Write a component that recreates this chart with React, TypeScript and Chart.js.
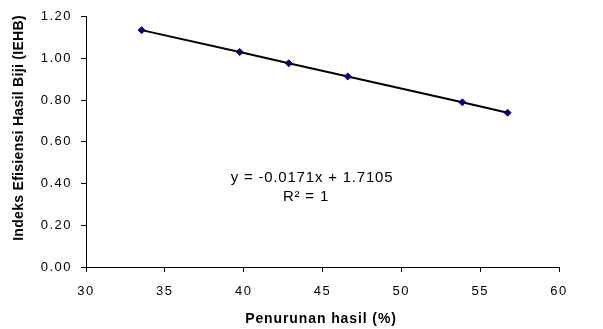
import React, { useEffect, useRef } from "react";
import { Chart, registerables } from "chart.js";

Chart.register(...registerables);

const xValues = [33.53, 39.75, 42.86, 46.6, 53.87, 56.74];
const yValues = [1.136, 1.031, 0.977, 0.914, 0.79, 0.74];
const xTicks = [30, 35, 40, 45, 50, 55, 60];
const yTicks = [0, 0.2, 0.4, 0.6, 0.8, 1.0, 1.2];
const xTitle = "Penurunan hasil (%)";
const yTitle = "Indeks Efisiensi Hasil Biji (IEHB)";
const equationText = "y = -0.0171x + 1.7105";
const r2Text = "R² = 1";

const FONT = "'Liberation Sans', Arial, sans-serif";

const spacingPlugin = {
  id: "spacing",
  beforeDraw(chart: any) {
    chart.ctx.letterSpacing = "1.5px";
  },
};

const textPlugin = {
  id: "texts",
  afterDraw(chart: any) {
    const ctx = chart.ctx;
    const xs = chart.scales.x;
    ctx.save();
    ctx.fillStyle = "#000";
    ctx.textAlign = "center";
    ctx.textBaseline = "middle";
    ctx.font = `bold 14px ${FONT}`;
    ctx.letterSpacing = "0.9px";
    ctx.fillText(xTitle, 321, 319);
    ctx.save();
    ctx.translate(19, 128);
    ctx.rotate(-Math.PI / 2);
    ctx.letterSpacing = "0.3px";
    ctx.fillText(yTitle, 0, 0);
    ctx.restore();
    ctx.font = `15px ${FONT}`;
    ctx.letterSpacing = "0.8px";
    ctx.fillText(equationText, 312, 178);
    ctx.fillText(r2Text, 306, 197);
    ctx.restore();
  },
};

export default function App() {
  const ref = useRef<HTMLCanvasElement>(null);
  useEffect(() => {
    if (!ref.current) return;
    const pts = xValues.map((x, i) => ({ x, y: yValues[i] }));
    const chart = new Chart(ref.current, {
      type: "scatter",
      data: {
        datasets: [
          {
            type: "line",
            data: pts,
            borderColor: "#000",
            borderWidth: 2,
            pointRadius: 0,
            fill: false,
            order: 2,
          } as any,
          {
            data: pts,
            backgroundColor: "#000080",
            borderColor: "#000080",
            pointStyle: "rectRot",
            pointRadius: 3.5,
            order: 1,
          },
        ],
      },
      options: {
        responsive: false,
        animation: false,
        layout: { padding: { top: 16, right: 44, left: 0, bottom: 0 } },
        plugins: { legend: { display: false }, tooltip: { enabled: false } },
        scales: {
          x: {
            type: "linear",
            min: 30,
            max: 60,
            afterBuildTicks: (s: any) => {
              s.ticks = xTicks.map((v) => ({ value: v }));
            },
            afterFit: (s: any) => {
              s.height = 62;
            },
            ticks: {
              color: "#000",
              font: { family: FONT, size: 13 },
              padding: 12,
              maxRotation: 0,
            },
            grid: {
              display: true,
              drawOnChartArea: false,
              tickLength: 5,
              color: "#000",
            },
            border: { display: true, color: "#000", width: 1 },
          },
          y: {
            type: "linear",
            min: 0,
            max: 1.2,
            afterBuildTicks: (s: any) => {
              s.ticks = yTicks.map((v) => ({ value: v }));
            },
            afterFit: (s: any) => {
              s.width = 86;
            },
            ticks: {
              color: "#000",
              font: { family: FONT, size: 13 },
              padding: 9,
              callback: (v: any) => Number(v).toFixed(2),
            },
            grid: {
              display: true,
              drawOnChartArea: false,
              tickLength: 5,
              color: "#000",
            },
            border: { display: true, color: "#000", width: 1 },
          },
        },
      },
      plugins: [spacingPlugin, textPlugin],
    });
    return () => chart.destroy();
  }, []);
  return (
    <div style={{ position: "fixed", left: 0, top: 0, width: 603, height: 329, background: "#fff" }}>
      <canvas ref={ref} width={603} height={329} style={{ display: "block" }} />
    </div>
  );
}
